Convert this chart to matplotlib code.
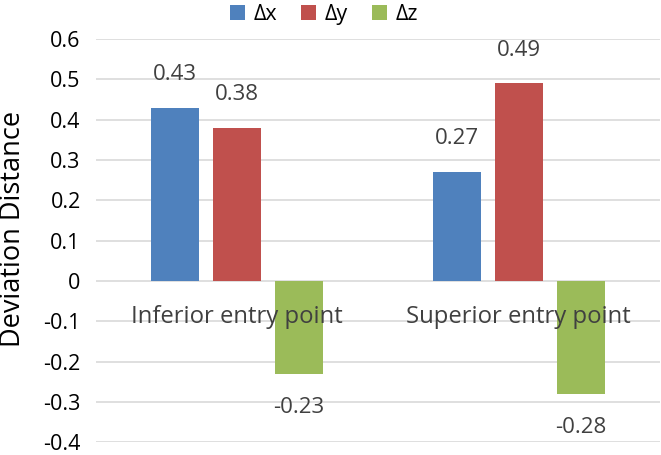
import numpy as np
import matplotlib.pyplot as plt

plt.rcParams['font.family'] = ['Open Sans', 'DejaVu Sans']

categories = ['Inferior entry point', 'Superior entry point']
series = ['\u0394x', '\u0394y', '\u0394z']
dx = [0.43, 0.27]
dy = [0.38, 0.49]
dz = [-0.23, -0.28]
yticks = [-0.4, -0.3, -0.2, -0.1, 0, 0.1, 0.2, 0.3, 0.4, 0.5, 0.6]

colors = ['#4F81BD', '#C0504D', '#9BBB59']

fig = plt.figure(figsize=(6.61, 4.55), dpi=100)
ax = fig.add_axes([0.1452, 0.028, 0.853, 0.886])

x = np.arange(len(categories))
w = 0.172
step = 0.22
handles = []
for i, (vals, name) in enumerate(zip([dx, dy, dz], series)):
    bars = ax.bar(x + (i - 1) * step, vals, w, color=colors[i], label=name, zorder=2)
    handles.append(bars)
    for xi, v in zip(x + (i - 1) * step, vals):
        off = 24 if v >= 0 else -24
        ax.annotate(f'{v:.2f}', (xi, v), xytext=(0, off), textcoords='offset points',
                    ha='center', va='center', fontsize=16, color='#404040')

for xi, c in zip(x, categories):
    ax.text(xi, -0.09, c, ha='center', va='center', fontsize=17.2, color='#404040')

ax.set_xlim(-0.5, 1.5)
ax.set_ylim(-0.4, 0.6)
ax.set_yticks(yticks)
ax.set_yticklabels(['0' if t == 0 else f'{t:.1f}' for t in yticks])
ax.set_xticks([])
ax.grid(axis='y', color='#D9D9D9', linewidth=1.2, zorder=0)
for s in ax.spines.values():
    s.set_visible(False)
ax.tick_params(axis='y', length=0, labelsize=15.5, pad=11, colors='black')
ax.set_ylabel('Deviation Distance', fontsize=19.5)
ax.yaxis.set_label_coords(-0.123, 0.53)

fig.legend(handles=handles, loc='center', bbox_to_anchor=(0.49, 0.968), ncol=3,
           frameon=False, fontsize=15.5, handlelength=0.7, handleheight=0.7,
           handletextpad=0.4, columnspacing=1.1)

fig.savefig('out.png', dpi=100)
